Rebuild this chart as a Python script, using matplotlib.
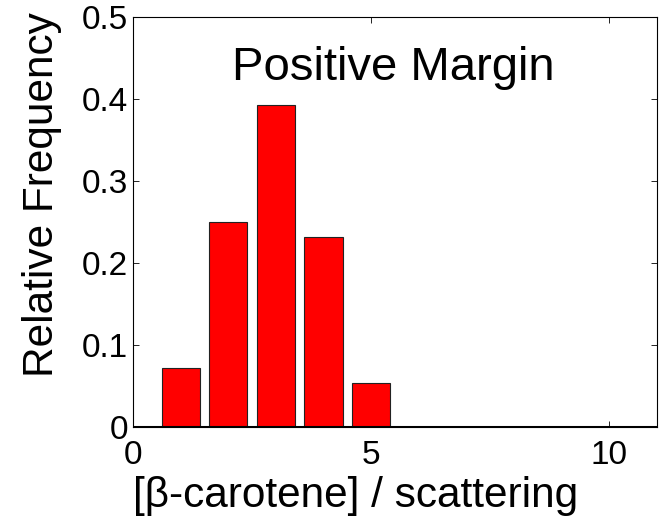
import matplotlib
matplotlib.use("Agg")
import matplotlib.pyplot as plt

plt.rcParams['font.family'] = ['Liberation Sans', 'DejaVu Sans']

bin_centers = [1, 2, 3, 4, 5]
rel_freq = [0.072, 0.250, 0.393, 0.232, 0.054]
x_ticks = [0, 5, 10]
y_ticks = [0, 0.1, 0.2, 0.3, 0.4, 0.5]
y_tick_labels = ['0', '0.1', '0.2', '0.3', '0.4', '0.5']

W, H = 664, 519
fig = plt.figure(figsize=(W / 100, H / 100), dpi=100)
ax = fig.add_axes([133 / W, 1 - 427 / H, 524 / W, 410 / H])

ax.bar(bin_centers, rel_freq, width=0.8, color='#ff0000', edgecolor='#222222', linewidth=0.8, zorder=2)
ax.axhline(0, color='black', linewidth=2.2, zorder=3)

ax.set_xlim(0, 11)
ax.set_ylim(0, 0.5)
ax.set_xticks(x_ticks)
ax.set_yticks(y_ticks)
ax.set_yticklabels(y_tick_labels)
ax.tick_params(direction='in', length=4, width=0.6, top=True, right=True, labelsize=24)
ax.tick_params(axis='x', pad=9)
ax.tick_params(axis='y', pad=3.5)
for s in ax.spines.values():
    s.set_linewidth(0.8)

# axis titles placed by baseline
fig.text(356 / W, 1 - 507 / H, '[β-carotene] / scattering', fontsize=30.5,
         ha='center', va='baseline')
fig.text(53 / W, 1 - 195 / H, 'Relative Frequency', fontsize=30.5,
         rotation=90, rotation_mode='anchor', ha='center', va='baseline')

ax.text(5.46, 0.423, 'Positive Margin', fontsize=34, ha='center', va='baseline')

fig.savefig('out.png', dpi=100)
